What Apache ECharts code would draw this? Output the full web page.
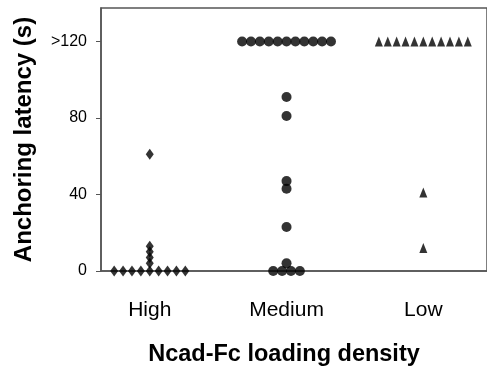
<!DOCTYPE html>
<html><head><meta charset="utf-8">
<script src="https://cdn.jsdelivr.net/npm/echarts@6/dist/echarts.min.js"></script>
<style>html,body{margin:0;padding:0;background:#fff}#c{width:487px;height:378px}</style>
</head><body><div id="c"></div>
<script>
// Data (">120" plotted at 120)
const categories = ['High', 'Medium', 'Low'];
const highValues = [0, 0, 0, 0, 0, 0, 0, 0, 0, 4, 7, 10, 13, 61];
const mediumValues = [120, 120, 120, 120, 120, 120, 120, 120, 120, 120, 120, 91, 81, 47, 43, 23, 4, 0, 0, 0, 0];
const lowValues = [120, 120, 120, 120, 120, 120, 120, 120, 120, 120, 120, 41, 12];
const yTickValues = [0, 40, 80, 120];
const yTickLabels = ['0', '40', '80', '>120'];

// simple swarm layout: identical values in a group are spread side by side
function swarm(values, groupIndex, step) {
  const counts = {};
  values.forEach(v => counts[v] = (counts[v] || 0) + 1);
  const seen = {};
  return values.map(v => {
    const n = counts[v];
    const k = seen[v] = (seen[v] === undefined ? 0 : seen[v] + 1);
    return [groupIndex + (k - (n - 1) / 2) * step, v];
  });
}
const step = 0.065;
const chart = echarts.init(document.getElementById('c'));
const font = 'Liberation Sans, Arial, Helvetica, sans-serif';
chart.setOption({
  animation: false,
  grid: { left: 101, right: -2, top: 8, bottom: 107, show: true, borderColor: '#555', borderWidth: 1.5, backgroundColor: 'transparent' },
  xAxis: {
    type: 'value', min: 0.6436, max: 3.4655,
    name: 'Ncad-Fc loading density', nameLocation: 'middle', nameGap: 72,
    nameTextStyle: { fontFamily: font, fontWeight: 'bold', fontSize: 23.5, color: '#000', padding: [0, 20, 0, 0] },
    axisLine: { show: true, lineStyle: { color: '#555', width: 1.5 } },
    axisTick: { show: false },
    splitLine: { show: false },
    axisLabel: {
      customValues: [1, 2, 3],
      formatter: v => categories[Math.round(v) - 1] || '',
      margin: 29, fontFamily: font, fontSize: 21, color: '#000'
    }
  },
  yAxis: {
    type: 'value', min: 0, max: 137.5,
    name: 'Anchoring latency (s)', nameLocation: 'middle', nameGap: 65, nameRotate: 90,
    nameTextStyle: { fontFamily: font, fontWeight: 'bold', fontSize: 24, color: '#000' },
    axisLine: { show: true, lineStyle: { color: '#555', width: 1.5 } },
    axisTick: { show: true, customValues: yTickValues, length: 5, lineStyle: { color: '#555', width: 1 } },
    splitLine: { show: false },
    axisLabel: {
      customValues: yTickValues,
      formatter: v => yTickLabels[yTickValues.indexOf(v)],
      margin: 14, fontFamily: font, fontSize: 16, color: '#000'
    }
  },
  series: [
    { type: 'scatter', data: swarm(highValues, 1, step), symbol: 'diamond', symbolSize: [8, 11], itemStyle: { color: '#000' } },
    { type: 'scatter', data: swarm(mediumValues, 2, step), symbol: 'circle', symbolSize: 10, itemStyle: { color: '#000' } },
    { type: 'scatter', data: swarm(lowValues, 3, step), symbol: 'triangle', symbolSize: [8, 10], itemStyle: { color: '#000' } }
  ]
});
</script></body></html>
